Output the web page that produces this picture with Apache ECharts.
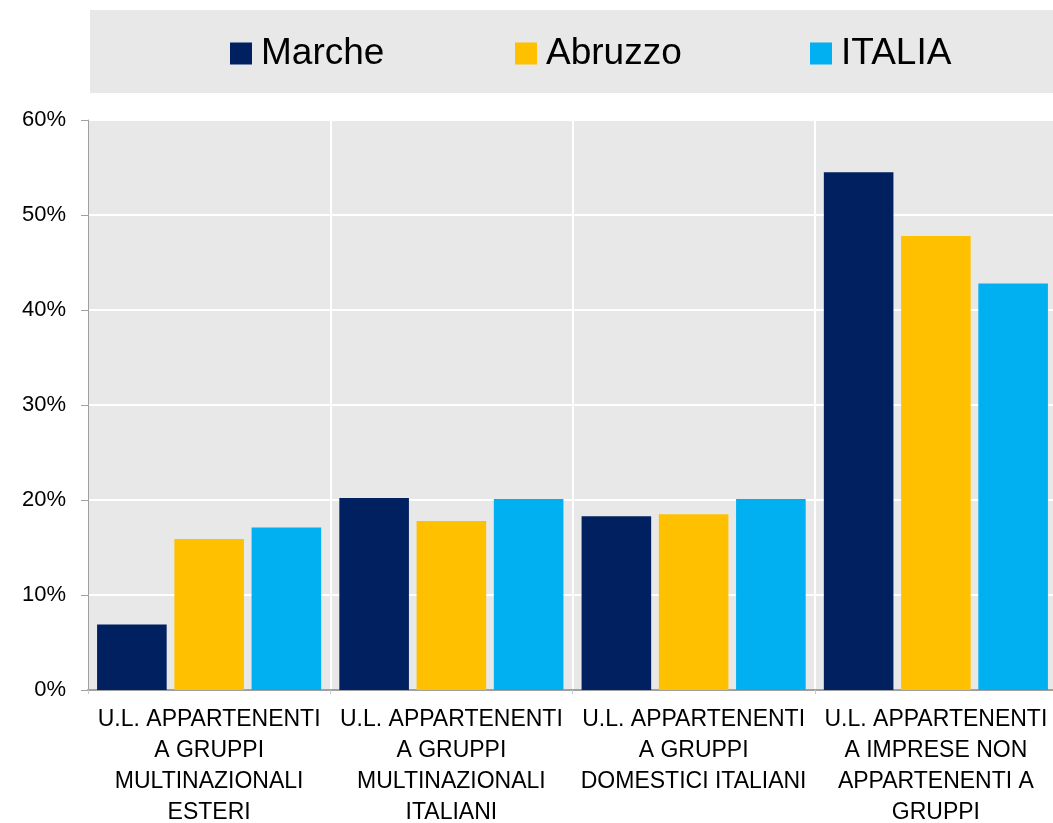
<!DOCTYPE html>
<html>
<head>
<meta charset="utf-8">
<script src="https://cdn.jsdelivr.net/npm/echarts@6/dist/echarts.min.js"></script>
<style>
  html, body { margin: 0; padding: 0; background: #fff; }
  #chart { width: 1053px; height: 823px; }
</style>
</head>
<body>
<div id="chart"></div>
<script>
// categorie (asse x)
const categories = [
  'U.L. APPARTENENTI\nA GRUPPI\nMULTINAZIONALI\nESTERI',
  'U.L. APPARTENENTI\nA GRUPPI\nMULTINAZIONALI\nITALIANI',
  'U.L. APPARTENENTI\nA GRUPPI\nDOMESTICI ITALIANI',
  'U.L. APPARTENENTI\nA IMPRESE NON\nAPPARTENENTI A\nGRUPPI'
]
// serie e quote percentuali
const seriesNames = ['Marche', 'Abruzzo', 'ITALIA']
const marche = [6.9, 20.2, 18.3, 54.5]
const abruzzo = [15.9, 17.8, 18.5, 47.8]
const italia = [17.1, 20.1, 20.1, 42.8]

const font = "'Liberation Sans Narrow', 'Arial Narrow', 'Liberation Sans', Arial, sans-serif"
const legendLeft = [225, 510, 805]

const chart = echarts.init(document.getElementById('chart'))

chart.setOption({
  animation: false,
  color: ['#002060', '#ffc000', '#00b0f0'],
  textStyle: { fontFamily: font },
  graphic: [{
    type: 'rect',
    shape: { x: 90, y: 10, width: 963, height: 83 },
    style: { fill: '#e8e8e8' },
    z: -1
  }],
  // una legenda per voce, per fissare la posizione
  legend: seriesNames.map((name, i) => ({
    left: legendLeft[i],
    top: 30,
    itemWidth: 22,
    itemHeight: 22,
    icon: 'rect',
    textStyle: { fontSize: 37, color: '#000', fontFamily: font, padding: [0, 0, 0, 4] },
    data: [name]
  })),
  grid: {
    left: 88,
    right: -4,
    top: 120,
    bottom: 133,
    outerBoundsMode: 'none',
    show: true,
    backgroundColor: '#e8e8e8',
    borderWidth: 0
  },
  xAxis: {
    type: 'category',
    data: categories,
    axisLine: { lineStyle: { color: '#a0a0a0', width: 2 } },
    axisTick: { show: true, length: 4, lineStyle: { color: '#c8c8c8' } },
    splitLine: { show: true, lineStyle: { color: '#ffffff', width: 2 } },
    axisLabel: {
      interval: 0,
      margin: 14,
      fontSize: 23,
      lineHeight: 31,
      color: '#000',
      fontFamily: font
    }
  },
  yAxis: {
    type: 'value',
    min: 0,
    max: 60,
    interval: 10,
    axisLine: { show: true, lineStyle: { color: '#a0a0a0', width: 1 } },
    axisTick: { show: true, length: 7, lineStyle: { color: '#a0a0a0' } },
    splitLine: { lineStyle: { color: '#ffffff', width: 2 } },
    axisLabel: {
      formatter: '{value}%',
      margin: 22,
      fontSize: 22,
      color: '#000',
      fontFamily: font
    }
  },
  series: [
    { name: 'Marche', type: 'bar', data: marche, barGap: '11%', barCategoryGap: '7.5%' },
    { name: 'Abruzzo', type: 'bar', data: abruzzo, barGap: '11%', barCategoryGap: '7.5%' },
    { name: 'ITALIA', type: 'bar', data: italia, barGap: '11%', barCategoryGap: '7.5%' }
  ]
})
</script>
</body>
</html>
